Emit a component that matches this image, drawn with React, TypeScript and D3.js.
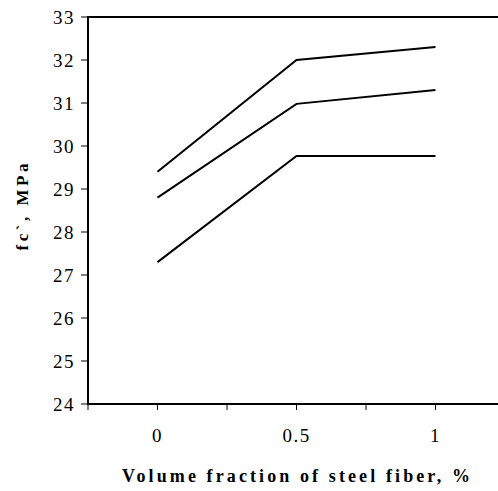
import React from 'react';
import * as d3 from 'd3';

const categories = ['0', '0.5', '1'];
const seriesTop = [29.4, 32.0, 32.3];
const seriesMid = [28.8, 30.98, 31.3];
const seriesLow = [27.3, 29.77, 29.77];
const yTicks = [24, 25, 26, 27, 28, 29, 30, 31, 32, 33];

const FONT = 'Liberation Serif';

const App: React.FC = () => {
  const left = 88;
  const right = 505;
  const top = 17;
  const bottom = 404;

  const x = d3.scaleBand<string>().domain(categories).range([left, right]).padding(0);
  const y = d3.scaleLinear().domain([24, 33]).range([bottom, top]);
  const cx = (c: string) => (x(c) as number) + x.bandwidth() / 2;

  // ticks at band edges and centers
  const tickXs: number[] = [];
  categories.forEach(c => tickXs.push(x(c) as number, cx(c)));
  tickXs.push(right);

  const line = d3.line<number>()
    .x((_, i) => cx(categories[i]))
    .y(d => y(d));

  return (
    <svg width={498} height={491} style={{ position: 'absolute', left: 0, top: 0, background: '#fff' }}>
      {/* frame: right side runs off the canvas */}
      <path d={`M${right},${top}H${left}V${bottom}H${right}`} fill="none" stroke="#000" strokeWidth={2} />

      {yTicks.map(t => (
        <g key={t}>
          <line x1={left - 7} x2={left} y1={y(t)} y2={y(t)} stroke="#000" strokeWidth={1} />
          <text x={left - 13} y={y(t)} dy="0.35em" textAnchor="end" fontFamily={FONT} fontSize={19} letterSpacing={1.5}>
            {t}
          </text>
        </g>
      ))}

      {tickXs.map((tx, i) => (
        <line key={i} x1={tx} x2={tx} y1={bottom} y2={bottom + 6} stroke="#000" strokeWidth={1} />
      ))}
      {categories.map(c => (
        <text key={c} x={cx(c)} y={442} textAnchor="middle" fontFamily={FONT} fontSize={19} letterSpacing={1.5}>
          {c}
        </text>
      ))}

      {[seriesTop, seriesMid, seriesLow].map((s, i) => (
        <path key={i} d={line(s) ?? ''} fill="none" stroke="#000" strokeWidth={2} />
      ))}

      <text x={296} y={482} textAnchor="middle" fontFamily={FONT} fontWeight="bold" fontSize={18}
        textLength={348} lengthAdjust="spacing">
        Volume fraction of steel fiber, %
      </text>
      <text transform="translate(28,207) rotate(-90)" textAnchor="middle" fontFamily={FONT} fontWeight="bold"
        fontSize={17} textLength={87} lengthAdjust="spacing">
        fc`, MPa
      </text>
    </svg>
  );
};

export default App;
